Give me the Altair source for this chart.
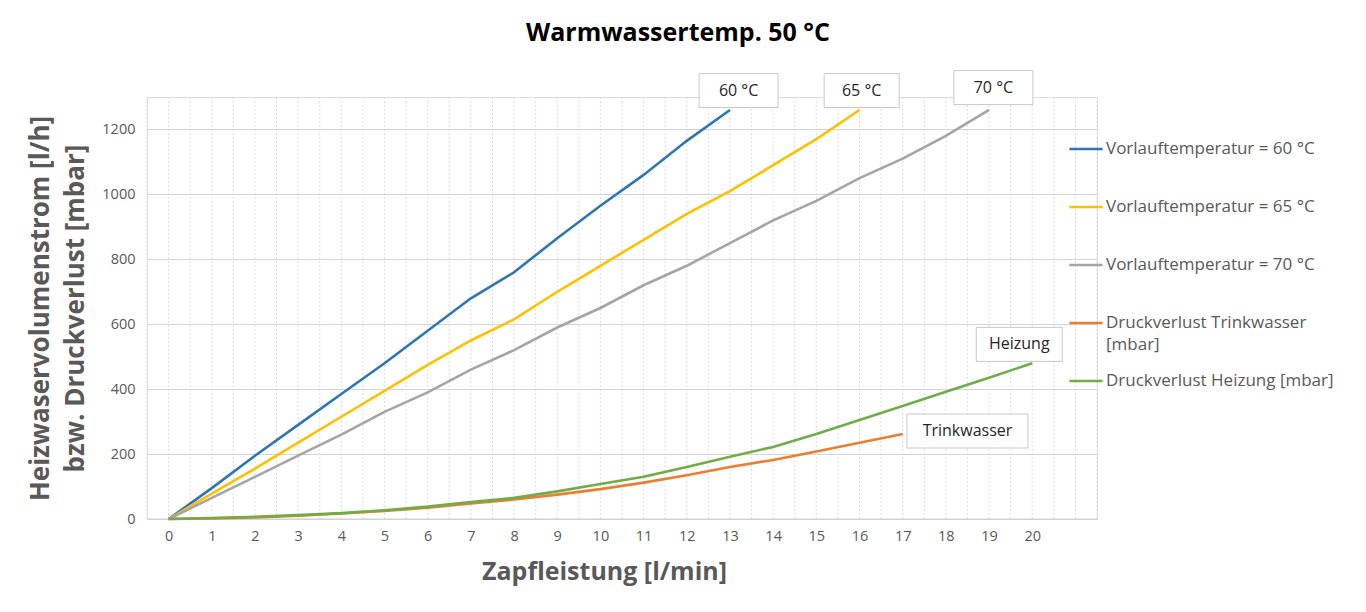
import altair as alt
import pandas as pd

# ---- data ----
x60 = list(range(0, 14))
y60 = [0, 95, 195, 290, 385, 480, 580, 680, 760, 865, 965, 1060, 1165, 1260]

x65 = list(range(0, 17))
y65 = [0, 78, 155, 235, 315, 395, 475, 550, 615, 700, 780, 860, 940, 1010, 1090, 1170, 1260]

x70 = list(range(0, 20))
y70 = [0, 65, 130, 195, 260, 330, 390, 460, 520, 590, 650, 720, 780, 850, 920, 980, 1050, 1110, 1180, 1260]

x_tw = list(range(0, 18))
y_tw = [0, 2, 5, 10, 17, 25, 35, 48, 60, 75, 92, 112, 135, 160, 182, 208, 235, 262]

x_hz = list(range(0, 21))
y_hz = [0, 3, 7, 12, 18, 27, 38, 52, 65, 85, 108, 130, 160, 192, 222, 262, 305, 348, 392, 435, 480]

series_names = [
    "Vorlauftemperatur = 60 °C",
    "Vorlauftemperatur = 65 °C",
    "Vorlauftemperatur = 70 °C",
    "Druckverlust Trinkwasser [mbar]",
    "Druckverlust Heizung [mbar]",
]
series_colors = ["#2e75b6", "#ffc000", "#a5a5a5", "#ed7d31", "#70ad47"]

x_ticks = list(range(0, 21))
y_ticks = [0, 200, 400, 600, 800, 1000, 1200]
grid_x = [i / 2 for i in range(-1, 44)]

# annotation labels (text, x, y, box width px)
ann_text = ["60 °C", "65 °C", "70 °C", "Heizung", "Trinkwasser"]
ann_x = [13.2, 16.05, 19.1, 19.7, 18.5]
ann_y = [1320, 1320, 1329, 538, 271]
ann_w = [79, 75, 79, 86, 121]

FONT = "Open Sans"

rows = []
for name, xs, ys in zip(series_names, [x60, x65, x70, x_tw, x_hz], [y60, y65, y70, y_tw, y_hz]):
    for xv, yv in zip(xs, ys):
        rows.append({"x": xv, "y": yv, "series": name})
df = pd.DataFrame(rows)

xscale = alt.Scale(domain=[-0.5, 21.5], nice=False, zero=False)
yscale = alt.Scale(domain=[0, 1300], nice=False)

# the long legend label wraps: first line in the legend, "[mbar]" continues below it
legend_label_expr = (
    "datum.label == 'Druckverlust Trinkwasser [mbar]' ? "
    "'Druckverlust Trinkwasser' : datum.label"
)

lines = alt.Chart(df).mark_line(strokeWidth=2.6).encode(
    x=alt.X(
        "x:Q",
        scale=xscale,
        axis=alt.Axis(
            values=x_ticks,
            title="Zapfleistung [l/min]",
            grid=False,
            ticks=False,
            domain=False,
            labelFont=FONT,
            labelFontSize=14.5,
            labelColor="#595959",
            labelPadding=10,
            titleFont=FONT,
            titleFontSize=25,
            titleFontWeight="bold",
            titleColor="#595959",
            titleX=457,
            titleY=52,
            titleBaseline="middle",
        ),
    ),
    y=alt.Y(
        "y:Q",
        scale=yscale,
        axis=alt.Axis(
            values=y_ticks,
            format="d",
            title=["Heizwaservolumenstrom [l/h]", "bzw. Druckverlust [mbar]"],
            grid=True,
            gridColor="#d4d4d4",
            gridWidth=1,
            ticks=False,
            domain=False,
            labelFont=FONT,
            labelFontSize=14.5,
            labelColor="#595959",
            labelPadding=12,
            titleFont=FONT,
            titleFontSize=26,
            titleFontWeight="bold",
            titleColor="#595959",
            titleLineHeight=35,
            titleX=-107,
            titleY=211,
            titleAlign="center",
            titleBaseline="middle",
        ),
    ),
    color=alt.Color(
        "series:N",
        scale=alt.Scale(domain=series_names, range=series_colors),
        sort=series_names,
        legend=alt.Legend(
            title=None,
            orient="none",
            legendX=921,
            legendY=34,
            symbolType="stroke",
            symbolSize=1100,
            symbolStrokeWidth=2.6,
            labelFont=FONT,
            labelFontSize=17,
            labelColor="#595959",
            labelOffset=2,
            labelLimit=300,
            rowPadding=32,
            labelExpr=legend_label_expr,
        ),
    ),
    order=alt.Order("x:Q"),
)

legend_wrap = alt.Chart(pd.DataFrame({"t": ["[mbar]"]})).mark_text(
    font=FONT, fontSize=17, color="#595959", align="left", baseline="middle"
).encode(x=alt.value(959), y=alt.value(248), text="t:N")

grid_df = pd.DataFrame({"gx": grid_x})
vgrid = alt.Chart(grid_df).mark_rule(color="#dedede", strokeWidth=1, strokeDash=[2, 2]).encode(
    x=alt.X("gx:Q", scale=xscale)
)

baseline = alt.Chart(pd.DataFrame({"b": [0]})).mark_rule(color="#d0d0d0", strokeWidth=1).encode(
    y=alt.Y("b:Q", scale=yscale)
)

layers = [vgrid, baseline, lines, legend_wrap]

for t, ax, ay, w in zip(ann_text, ann_x, ann_y, ann_w):
    d = pd.DataFrame({"t": [t], "ax": [ax], "ay": [ay]})
    box = alt.Chart(d).mark_rect(
        width=w, height=34, fill="white", stroke="#c8c8c8", strokeWidth=1
    ).encode(x=alt.X("ax:Q", scale=xscale), y=alt.Y("ay:Q", scale=yscale))
    txt = alt.Chart(d).mark_text(
        font=FONT, fontSize=16, color="#262626", align="center", baseline="middle"
    ).encode(x=alt.X("ax:Q", scale=xscale), y=alt.Y("ay:Q", scale=yscale), text="t:N")
    layers += [box, txt]

chart = alt.layer(*layers).properties(
    width=950,
    height=422,
    autosize=alt.AutoSizeParams(type="none"),
    padding={"left": 139, "top": 89, "right": 260, "bottom": 85},
    title=alt.TitleParams(
        "Warmwassertemp. 50 °C",
        font=FONT,
        fontSize=25,
        fontWeight="bold",
        color="#000000",
        anchor="middle",
        dx=56,
        offset=24,
    ),
).configure_view(
    fill="#ececec", stroke=None
).configure(background="white")

chart.save("out.html", embed_options={"renderer": "svg", "actions": False})
